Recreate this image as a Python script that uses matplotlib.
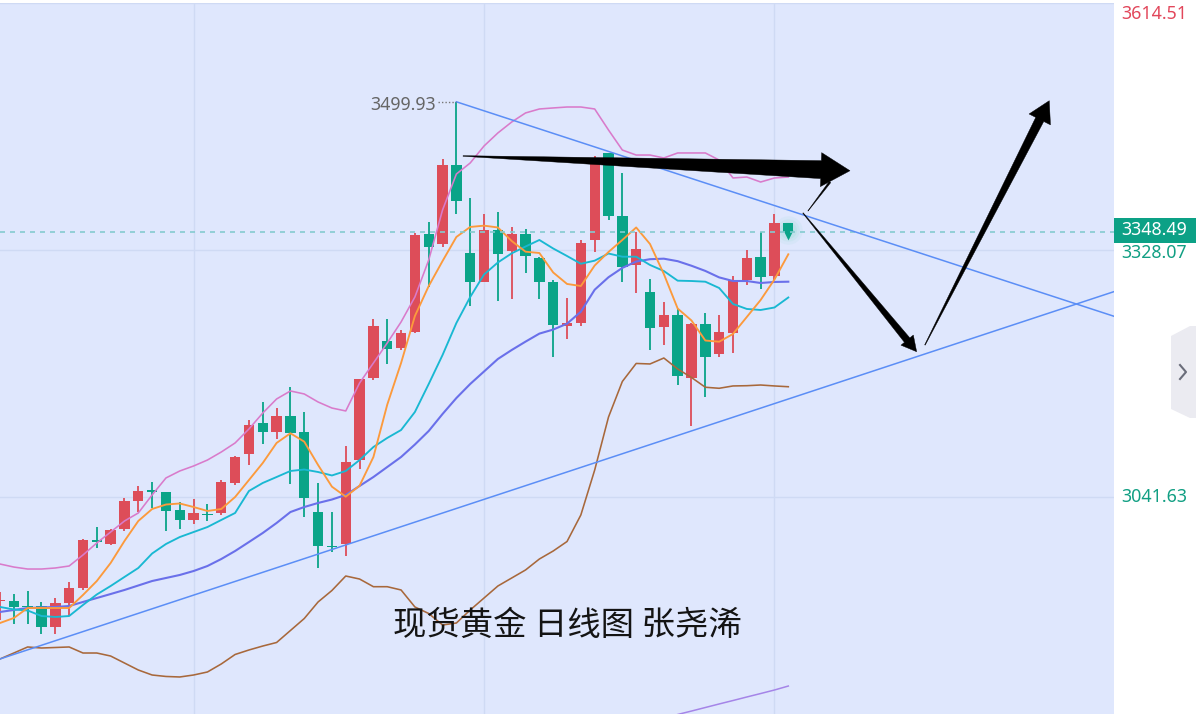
import matplotlib
matplotlib.use("Agg")
import matplotlib.pyplot as plt
import numpy as np
from matplotlib.patches import Polygon, Rectangle
from matplotlib.lines import Line2D

plt.rcParams['font.family'] = ['Noto Sans', 'Noto Sans CJK SC', 'DejaVu Sans']

# ---------------- data (spot gold, daily) ----------------
opens = [2921.0, 2921.0, 2915.2, 2915.2, 2891.2, 2919.0, 2935.7, 2991.2, 2987.1, 3004.2,
         3037.3, 3049.2, 3047.1, 3026.6, 3015.0, 3021.3, 3022.7, 3058.2, 3091.5, 3127.8,
         3117.4, 3135.9, 3117.4, 3024.6, 2984.8, 2986.8, 3084.5, 3180.0, 3222.9, 3214.1,
         3233.3, 3346.6, 3334.7, 3426.6, 3324.2, 3291.3, 3351.3, 3327.3, 3346.6, 3319.2,
         3291.3, 3240.3, 3243.1, 3339.7, 3440.2, 3367.5, 3310.7, 3278.8, 3239.1, 3252.7,
         3180.0, 3242.3, 3207.5, 3232.2, 3293.3, 3320.3, 3297.9, 3359.0]
highs = [2931.5, 2929.1, 2932.6, 2920.2, 2924.1, 2942.7, 2992.9, 3007.2, 3004.5, 3040.5,
         3054.7, 3059.4, 3047.6, 3035.5, 3039.0, 3033.5, 3061.3, 3089.2, 3130.9, 3151.5,
         3145.2, 3169.5, 3139.9, 3057.5, 3024.6, 3100.8, 3179.0, 3248.1, 3248.1, 3235.3,
         3347.8, 3360.9, 3433.6, 3499.93, 3388.7, 3369.8, 3372.5, 3355.1, 3352.4, 3319.8,
         3293.3, 3272.4, 3339.7, 3437.1, 3440.8, 3417.7, 3349.3, 3294.4, 3268.1, 3259.7,
         3243.0, 3254.7, 3252.7, 3297.9, 3328.1, 3349.3, 3369.5, 3359.0]
lows = [2899.0, 2894.4, 2894.4, 2882.7, 2882.7, 2904.0, 2933.8, 2982.1, 2985.9, 3002.5,
        3024.6, 3028.5, 3002.5, 3004.2, 3010.3, 3014.2, 3020.8, 3055.5, 3078.7, 3103.1,
        3108.9, 3056.4, 3018.1, 2958.9, 2978.2, 2973.2, 3073.8, 3177.3, 3195.9, 3212.1,
        3231.8, 3285.5, 3331.9, 3369.8, 3263.1, 3290.4, 3268.9, 3270.9, 3301.8, 3270.9,
        3204.3, 3224.9, 3240.3, 3326.1, 3362.9, 3291.3, 3277.9, 3212.1, 3217.9, 3171.5,
        3124.0, 3158.0, 3204.3, 3208.3, 3287.5, 3282.5, 3293.3, 3348.49]
closes = [2922.2, 2914.4, 2913.5, 2891.2, 2918.3, 2935.7, 2991.8, 2990.0, 3003.4, 3037.0,
          3048.9, 3048.0, 3025.4, 3015.0, 3022.7, 3020.2, 3059.4, 3087.7, 3125.1, 3117.4,
          3135.9, 3115.5, 3040.8, 2985.2, 2983.3, 3081.9, 3178.1, 3240.3, 3213.3, 3232.2,
          3345.5, 3331.9, 3426.6, 3385.2, 3291.3, 3351.3, 3323.1, 3346.6, 3321.1, 3291.3,
          3241.1, 3243.8, 3335.8, 3428.6, 3367.5, 3308.7, 3329.2, 3237.3, 3252.7, 3182.0,
          3242.3, 3204.3, 3233.3, 3293.3, 3318.5, 3296.4, 3359.0, 3348.49]

ma5 = [2895.5, 2901.3, 2912.9, 2912.9, 2912.9, 2912.9, 2928.0, 2944.2, 2965.1, 2990.6,
       3013.8, 3027.7, 3032.9, 3034.1, 3030.0, 3025.4, 3027.7, 3041.6, 3061.3, 3081.1,
       3104.3, 3115.5, 3105.8, 3078.7, 3053.6, 3042.0, 3054.7, 3088.0, 3148.7, 3197.0,
       3251.5, 3286.3, 3315.3, 3343.2, 3354.8, 3356.3, 3354.2, 3338.5, 3326.1, 3324.6,
       3302.0, 3288.7, 3286.3, 3310.1, 3325.8, 3339.7, 3354.2, 3335.0, 3300.2, 3260.2,
       3246.3, 3223.1, 3221.7, 3230.7, 3250.4, 3270.1, 3293.9, 3323.1]
ma10 = [2914.1, 2911.2, 2910.0, 2903.6, 2902.5, 2903.6, 2916.4, 2928.6, 2938.4, 2948.9,
        2959.3, 2976.1, 2987.1, 2995.2, 3001.0, 3006.8, 3015.0, 3023.1, 3048.6, 3057.9,
        3064.8, 3071.8, 3073.5, 3070.6, 3066.6, 3071.8, 3084.5, 3099.6, 3110.1, 3119.3,
        3140.2, 3172.7, 3206.3, 3243.4, 3273.6, 3299.7, 3313.6, 3324.2, 3332.1, 3339.7,
        3329.8, 3321.1, 3312.1, 3315.7, 3324.0, 3320.3, 3320.3, 3310.7, 3303.7, 3292.5,
        3292.1, 3291.3, 3284.0, 3265.5, 3259.7, 3258.5, 3261.4, 3273.0]
ma20 = [2908.3, 2910.6, 2912.9, 2913.5, 2914.1, 2915.2, 2919.9, 2924.5, 2929.1, 2933.8,
        2939.0, 2944.2, 2947.7, 2951.2, 2955.8, 2961.6, 2969.7, 2979.0, 2989.4, 2999.9,
        3011.5, 3024.2, 3030.0, 3034.7, 3038.7, 3044.0, 3054.4, 3064.8, 3076.4, 3088.0,
        3102.5, 3118.2, 3137.9, 3156.4, 3172.7, 3187.2, 3201.7, 3212.1, 3221.8, 3231.1,
        3235.8, 3242.6, 3256.5, 3282.0, 3296.5, 3307.3, 3314.7, 3317.4, 3318.0, 3315.1,
        3309.8, 3303.8, 3296.3, 3292.1, 3292.1, 3289.8, 3291.0, 3291.3]
boll_upper = [2963.9, 2960.4, 2958.1, 2958.1, 2959.3, 2961.6, 2974.4, 2988.3, 3001.0, 3013.8,
              3023.1, 3044.0, 3063.7, 3071.8, 3077.6, 3084.5, 3093.8, 3104.3, 3120.5, 3139.0,
              3155.3, 3164.6, 3161.1, 3151.8, 3144.8, 3141.4, 3173.8, 3197.0, 3220.2, 3244.6,
              3273.6, 3316.5, 3374.5, 3416.2, 3429.0, 3448.7, 3463.8, 3476.5, 3487.0, 3491.6,
              3492.8, 3493.9, 3493.9, 3491.6, 3467.2, 3444.0, 3438.2, 3438.2, 3434.8, 3440.6,
              3440.6, 3440.6, 3432.4, 3411.6, 3412.7, 3406.9, 3411.6, 3412.7]
boll_lower = [2853.8, 2860.7, 2867.7, 2866.5, 2867.1, 2867.7, 2860.7, 2860.7, 2857.2, 2849.1,
              2841.0, 2835.2, 2833.5, 2832.9, 2835.2, 2838.7, 2848.0, 2859.0, 2864.2, 2868.8,
              2872.9, 2886.8, 2900.7, 2919.9, 2933.2, 2950.0, 2946.5, 2937.6, 2937.6, 2933.8,
              2914.1, 2906.5, 2893.2, 2895.5, 2910.6, 2924.5, 2938.4, 2947.7, 2957.0, 2969.7,
              2979.0, 2990.0, 3020.8, 3072.9, 3134.4, 3175.6, 3196.5, 3195.9, 3202.8, 3190.1,
              3180.2, 3168.9, 3167.7, 3170.4, 3170.7, 3171.5, 3170.4, 3169.5]
ma_long_idx = [49, 50, 51, 52, 53, 54, 55, 56, 57]
ma_long = [2789.4, 2793.4, 2797.5, 2801.6, 2805.6, 2809.7, 2813.7, 2817.8, 2822.4]

# trend lines (index, price)
trend_down = ([33, 80.55], [3499.93, 3251.2])
trend_up = ([0, 80.55], [2853.8, 3279.8])

# drawn forecast arrows: (tail, tip) in (index, price)
arrow_flat = ((33.48, 3437.1), (61.46, 3420.0))
arrow_down = ((58.06, 3371.0), (66.28, 3210.1))
arrow_up = ((66.88, 3217.9), (75.87, 3501.2))
stroke_thin = ((58.42, 3373.3), (60.01, 3406.9))

high_mark = 3499.93
high_idx = 33
last_price = 3348.49
axis_levels = [3614.51, 3328.07, 3041.63]
grid_idx = [14, 35, 56]
title = "现货黄金 日线图 张尧浠"

# ---------------- styling ----------------
RED = '#dd4d59'
GREEN = '#0aa488'
BG = '#dfe7fd'
W, H = 1196, 714

fig = plt.figure(figsize=(W / 100, H / 100), dpi=100, facecolor='white')
ax = fig.add_axes([0, 0, 1114 / W, 711 / H])
ax.set_facecolor(BG)
ax.set_xlim(0, 80.55)
ax.set_ylim(2789.97, 3614.51)
for s in ax.spines.values():
    s.set_visible(False)
ax.set_xticks([])
ax.set_yticks([])

# grid
for g in grid_idx:
    ax.axvline(g, color='#cfdaf4', lw=1.0, zorder=0.5)
for lv in axis_levels:
    ax.axhline(lv, color='#cfdaf4', lw=1.0, zorder=0.5)

# candles
idx = np.arange(len(opens))
o = np.array(opens); c = np.array(closes); hi = np.array(highs); lo = np.array(lows)
up = c >= o
cols = np.where(up, RED, GREEN)
ax.vlines(idx, lo, hi, colors=cols, lw=1.3, zorder=2)
bottom = np.minimum(o, c)
height = np.maximum(np.abs(c - o), 1.5)
ax.bar(idx, height, bottom=bottom, width=0.75, color=cols, lw=0, zorder=2.2)

# current price marker (glow + pointer)
for s_, a_ in [(420, 0.10), (260, 0.14), (150, 0.18)]:
    ax.scatter([idx[-1]], [last_price + 3], s=s_, color='#8ad8cc', alpha=a_, lw=0, zorder=2.1)
ax.scatter([idx[-1]], [last_price - 3.0], marker='v', s=50, color=GREEN, lw=0, zorder=2.3)

# indicator lines
ax.plot(idx, boll_upper, color='#d97bcb', lw=1.15, zorder=3)
ax.plot(idx, boll_lower, color='#a8683b', lw=1.15, zorder=3)
ax.plot(idx, ma20, color='#6a70ea', lw=1.5, zorder=3)
ax.plot(idx, ma10, color='#19b8d2', lw=1.35, zorder=3)
ax.plot(idx, ma5, color='#fc9a3c', lw=1.35, zorder=3)
ax.plot(ma_long_idx, ma_long, color='#a585e8', lw=1.1, zorder=3)

# trend lines
ax.plot(*trend_down, color='#5b8ef6', lw=1.1, zorder=4)
ax.plot(*trend_up, color='#5b8ef6', lw=1.1, zorder=4)

# current price dashed line
ax.axhline(last_price, color='#84cbd0', lw=1.2, ls=(0, (3, 3)), zorder=3.5)

# high marker
ax.plot([31.67, high_idx], [high_mark, high_mark], color='#777777', lw=1.0,
        ls=(0, (1, 1.5)), zorder=4)
ax.text(31.55, high_mark - 3.5, f"{high_mark:.2f}", ha='right', va='center',
        color='#666666', fontsize=12.8, zorder=7)


def tapered_arrow(p0, p1, w_tail, w_shaft, w_head, head_len, color='black'):
    P0 = ax.transData.transform(p0)
    P1 = ax.transData.transform(p1)
    d = P1 - P0
    L = np.hypot(*d)
    u = d / L
    n = np.array([-u[1], u[0]])
    base = P1 - u * head_len
    pts = [P0 + n * w_tail / 2, base + n * w_shaft / 2, base + n * w_head / 2, P1,
           base - n * w_head / 2, base - n * w_shaft / 2, P0 - n * w_tail / 2]
    pts = ax.transData.inverted().transform(np.array(pts))
    ax.add_patch(Polygon(pts, closed=True, facecolor=color, edgecolor=color, lw=0.3,
                         zorder=6))


tapered_arrow(*arrow_flat, w_tail=0.6, w_shaft=18, w_head=34, head_len=29)
tapered_arrow(*arrow_down, w_tail=0.6, w_shaft=7, w_head=16, head_len=15)
tapered_arrow(*arrow_up, w_tail=0.6, w_shaft=9, w_head=24, head_len=21)
tapered_arrow(*stroke_thin, w_tail=0.3, w_shaft=2.0, w_head=2.0, head_len=0.01)

# title annotation
ax.text(393 / 1114, (714 - 625) / 711, title, transform=ax.transAxes, ha='left',
        va='center', fontsize=24, color='#141414',
        family=['Noto Sans CJK SC', 'DejaVu Sans'], zorder=7)

# right price axis labels
lab_cols = {3614.51: '#e2475b', 3328.07: '#119f83', 3041.63: '#119f83'}
lab_off = {3614.51: -11, 3328.07: -3, 3041.63: 0}
for lv in axis_levels:
    ax.annotate(f"{lv:.2f}", xy=(1, lv), xycoords=('axes fraction', 'data'),
                xytext=(7, lab_off[lv]), textcoords='offset pixels', ha='left',
                va='center', fontsize=12.8, color=lab_cols[lv], annotation_clip=False,
                zorder=8)

# current price box
box_lo, box_hi = 3336.2, 3365.2
ax.add_patch(Rectangle((1.0, box_lo), (W - 1114) / 1114, box_hi - box_lo,
                       transform=ax.get_yaxis_transform(), facecolor='#0ca186',
                       edgecolor='none', clip_on=False, zorder=9))
ax.annotate(f"{last_price:.2f}", xy=(1, last_price), xycoords=('axes fraction', 'data'),
            xytext=(7, 2), textcoords='offset pixels', ha='left', va='center',
            fontsize=12.8, color='white', annotation_clip=False, zorder=10)

# side tab with chevron
def fpx(x, y):
    return (x / W, 1 - y / H)

tab = [fpx(1171, 336), fpx(1190, 326), fpx(1196, 326), fpx(1196, 418),
       fpx(1190, 418), fpx(1171, 409)]
fig.add_artist(Polygon(tab, closed=True, transform=fig.transFigure,
                       facecolor='#ebebf1', edgecolor='none'))
chev = [fpx(1180, 365), fpx(1186, 372), fpx(1180, 379)]
fig.add_artist(Line2D([p[0] for p in chev], [p[1] for p in chev],
                      transform=fig.transFigure, color='#6a6d7a', lw=1.5))

fig.savefig('out.png', dpi=100, facecolor='white')
